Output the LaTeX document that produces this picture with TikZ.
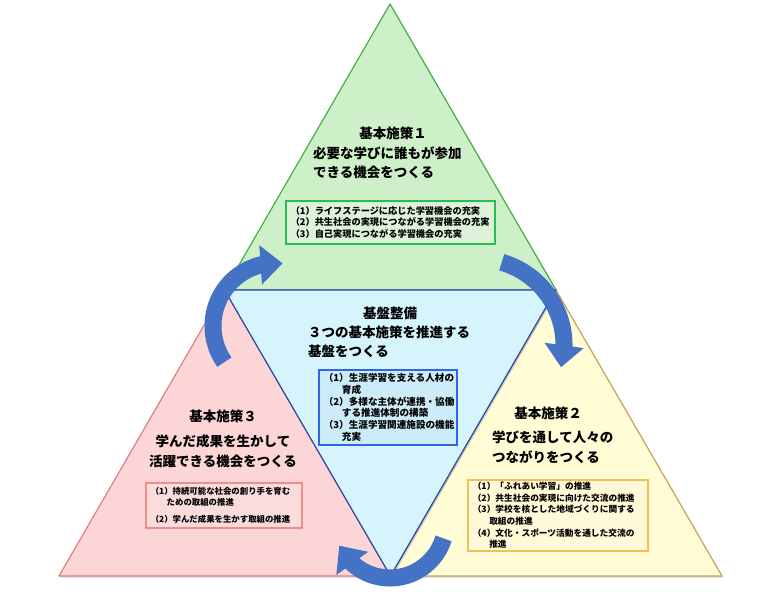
\documentclass[tikz,border=0pt]{standalone}
\usepackage{fontspec}
\setmainfont{Noto Sans CJK JP}
\usetikzlibrary{calc, positioning}
\usetikzlibrary{arrows.meta, bending}
\usetikzlibrary{shadows}

\definecolor{greenfill}{RGB}{206,240,200}
\definecolor{greenline}{RGB}{70,175,70}
\definecolor{bluefill}{RGB}{214,244,252}
\definecolor{blueline}{RGB}{45,70,170}
\definecolor{pinkfill}{RGB}{252,214,214}
\definecolor{pinkline}{RGB}{225,125,125}
\definecolor{yellowfill}{RGB}{255,252,214}
\definecolor{yellowline}{RGB}{200,165,90}
\definecolor{greenbox}{RGB}{40,190,80}
\definecolor{greenboxfill}{RGB}{222,242,218}
\definecolor{bluebox}{RGB}{50,100,235}
\definecolor{blueboxfill}{RGB}{205,236,250}
\definecolor{pinkbox}{RGB}{240,140,140}
\definecolor{pinkboxfill}{RGB}{250,220,220}
\definecolor{yellowbox}{RGB}{245,190,80}
\definecolor{yellowboxfill}{RGB}{255,249,215}
\definecolor{arrowblue}{RGB}{68,114,196}

\newcommand\itemfont[2]{\bfseries\fontsize{#1}{#2}\selectfont}
\newcommand\indentline{\hspace*{1.9em}}

\begin{document}
\begin{tikzpicture}[x=1pt, y=-1pt,
  tri/.style={line width=1.2pt, line join=round,
    drop shadow={shadow xshift=1.5pt, shadow yshift=-1.5pt, opacity=0.35}},
  title/.style={font=\bfseries\fontsize{13.5}{19.5}\selectfont, inner sep=0pt},
  itembox/.style={draw, line width=1.5pt, anchor=north west,
    inner xsep=5pt, inner ysep=0pt, align=left},
  flow/.style={draw=arrowblue, line width=17pt,
    -{Triangle[length=22pt, width=38pt, flex]}}]

\useasboundingbox (0,0) rectangle (778,596);

\coordinate (A) at (390,4);
\coordinate (B) at (59,576);
\coordinate (C) at (722,576);
\coordinate (AB) at ($(A)!0.5!(B)$);
\coordinate (AC) at ($(A)!0.5!(C)$);
\coordinate (BC) at ($(B)!0.5!(C)$);

% four triangles
\filldraw[tri, fill=greenfill, draw=greenline] (A) -- (AB) -- (AC) -- cycle;
\filldraw[tri, fill=pinkfill, draw=pinkline] (AB) -- (B) -- (BC) -- cycle;
\filldraw[tri, fill=yellowfill, draw=yellowline] (AC) -- (BC) -- (C) -- cycle;
\filldraw[tri, fill=bluefill, draw=blueline] (AB) -- (AC) -- (BC) -- cycle;

% policy 1
\node[title] (p1head) at (393,133) {基本施策１};
\node[title, align=left, anchor=west] (p1body) at (313,162.5)
  {必要な学びに誰もが参加\\できる機会をつくる};
\node[itembox, draw=greenbox, fill=greenboxfill, font=\itemfont{9.2}{11.5},
  text width=199pt, minimum height=43pt] (p1box) at (285,200)
  {（1）ライフステージに応じた学習機会の充実\\
   （2）共生社会の実現につながる学習機会の充実\\
   （3）自己実現につながる学習機会の充実};

% foundation
\node[title] (p0head) at (390,313) {基盤整備};
\node[title, align=left, anchor=west] (p0body) at (308,342)
  {３つの基本施策を推進する\\基盤をつくる};
\node[itembox, draw=bluebox, fill=blueboxfill, font=\itemfont{9.6}{11.8},
  text width=128pt, minimum height=75pt] (p0box) at (318,369)
  {（1）生涯学習を支える人材の\\\indentline 育成\\
   （2）多様な主体が連携・協働\\\indentline する推進体制の構築\\
   （3）生涯学習関連施設の機能\\\indentline 充実};

% policy 3
\node[title] (p3head) at (223,416) {基本施策３};
\node[title, align=center] (p3body) at (223,451.5)
  {学んだ成果を生かして\\活躍できる機会をつくる};
\node[itembox, draw=pinkbox, fill=pinkboxfill, font=\itemfont{8.4}{11},
  text width=146pt, minimum height=45pt] (p3box) at (145,482)
  {（1）持続可能な社会の創り手を育む\\\indentline ための取組の推進\\[6pt]
   （2）学んだ成果を生かす取組の推進};

% policy 2
\node[title] (p2head) at (548,413) {基本施策２};
\node[title, align=left, anchor=west] (p2body) at (492,447.5)
  {学びを通して人々の\\つながりをつくる};
\node[itembox, draw=yellowbox, fill=yellowboxfill, font=\itemfont{8.7}{11.6},
  text width=170pt, minimum height=71pt] (p2box) at (467,479)
  {（1）「ふれあい学習」の推進\\
   （2）共生社会の実現に向けた交流の推進\\
   （3）学校を核とした地域づくりに関する\\\indentline 取組の推進\\
   （4）文化・スポーツ活動を通した交流の\\\indentline 推進};

% cycle arrows
\coordinate (arcL) at (276,326);
\coordinate (arcR) at (478,345);
\coordinate (arcB) at (390,522);
\draw[flow] ($(arcL)+(-215:63)$) arc[start angle=-215, end angle=-84, radius=63];
\draw[flow] ($(arcR)+(-74:86)$) arc[start angle=-74, end angle=15, radius=86];
\draw[flow] ($(arcB)+(17:56)$) arc[start angle=17, end angle=155, radius=56];
\end{tikzpicture}
\end{document}
